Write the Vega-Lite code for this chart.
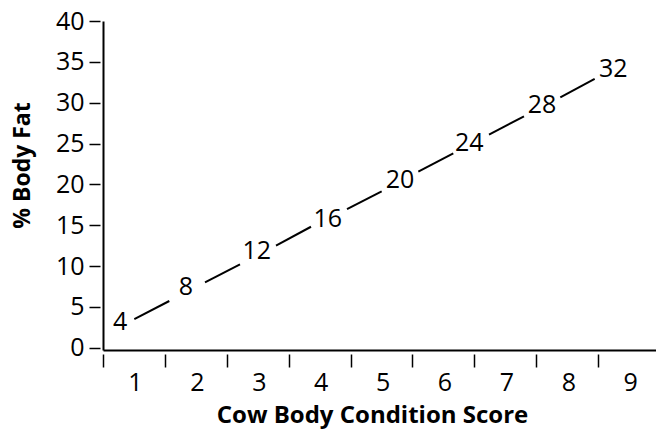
{
  "$schema": "https://vega.github.io/schema/vega-lite/v6.json",
  "width": 553,
  "height": 329,
  "autosize": {"type": "none"},
  "padding": {"left": 103, "top": 21, "right": 0, "bottom": 79},
  "background": "white",
  "config": {"view": {"stroke": null}, "font": "Open Sans"},
  "datasets": {
    "segments": [
      {"x": 1.006, "y": 3.51, "x2": 1.571, "y2": 5.72},
      {"x": 2.148, "y": 8.01, "x2": 2.713, "y2": 10.21},
      {"x": 3.295, "y": 12.49, "x2": 3.86, "y2": 14.81},
      {"x": 4.442, "y": 16.98, "x2": 5.002, "y2": 19.15},
      {"x": 5.594, "y": 21.55, "x2": 6.159, "y2": 23.8},
      {"x": 6.736, "y": 26.08, "x2": 7.301, "y2": 28.33},
      {"x": 7.888, "y": 30.66, "x2": 8.443, "y2": 32.9}
    ],
    "labels": [
      {"x": 0.775, "y": 3.11, "label": "4"},
      {"x": 1.841, "y": 7.47, "label": "8"},
      {"x": 2.983, "y": 11.84, "label": "12"},
      {"x": 4.13, "y": 15.76, "label": "16"},
      {"x": 5.298, "y": 20.53, "label": "20"},
      {"x": 6.418, "y": 25.02, "label": "24"},
      {"x": 7.592, "y": 29.71, "label": "28"},
      {"x": 8.744, "y": 34.08, "label": "32"}
    ]
  },
  "layer": [
    {
      "data": {"name": "segments"},
      "mark": {"type": "rule", "strokeWidth": 2, "color": "black"},
      "encoding": {
        "x": {
          "field": "x", "type": "quantitative",
          "scale": {"domain": [0.5, 9.434], "nice": false, "zero": false},
          "axis": {
            "orient": "bottom", "offset": 4, "domain": false, "grid": false,
            "values": [0.5, 1.5, 2.5, 3.5, 4.5, 5.5, 6.5, 7.5, 8.5],
            "labelExpr": "format(datum.value + 0.5, 'd')",
            "labelOffset": 32, "labelPadding": 3, "labelFontSize": 25, "labelColor": "black",
            "labelFlush": false, "labelOverlap": false,
            "tickSize": 13, "tickWidth": 1.5, "tickColor": "black",
            "title": "Cow Body Condition Score", "titleFontSize": 24, "titleFontWeight": "bold",
            "titleColor": "black", "titleX": 269, "titlePadding": 8
          }
        },
        "y": {
          "field": "y", "type": "quantitative",
          "scale": {"domain": [-0.28, 40], "nice": false, "zero": false},
          "axis": {
            "orient": "left", "offset": 3, "domain": false, "grid": false,
            "values": [0, 5, 10, 15, 20, 25, 30, 35, 40],
            "labelPadding": 5, "labelFontSize": 25, "labelColor": "black",
            "labelFlush": false, "labelOverlap": false,
            "tickSize": 11, "tickWidth": 1.5, "tickColor": "black",
            "title": "% Body Fat", "titleFontSize": 23, "titleFontWeight": "bold",
            "titleColor": "black", "titleY": 144, "titlePadding": 21
          }
        },
        "x2": {"field": "x2"},
        "y2": {"field": "y2"}
      }
    },
    {
      "data": {"name": "labels"},
      "mark": {"type": "text", "fontSize": 25, "color": "black", "align": "center", "baseline": "middle"},
      "encoding": {
        "x": {
          "field": "x", "type": "quantitative",
          "scale": {"domain": [0.5, 9.434], "nice": false, "zero": false},
          "axis": {"orient": "bottom", "domain": true, "domainWidth": 2, "domainColor": "black",
                   "ticks": false, "labels": false, "grid": false, "title": null}
        },
        "y": {
          "field": "y", "type": "quantitative",
          "scale": {"domain": [-0.28, 40], "nice": false, "zero": false},
          "axis": {"orient": "left", "domain": true, "domainWidth": 2, "domainColor": "black",
                   "ticks": false, "labels": false, "grid": false, "title": null}
        },
        "text": {"field": "label"}
      }
    }
  ],
  "resolve": {"axis": {"x": "independent", "y": "independent"}}
}
